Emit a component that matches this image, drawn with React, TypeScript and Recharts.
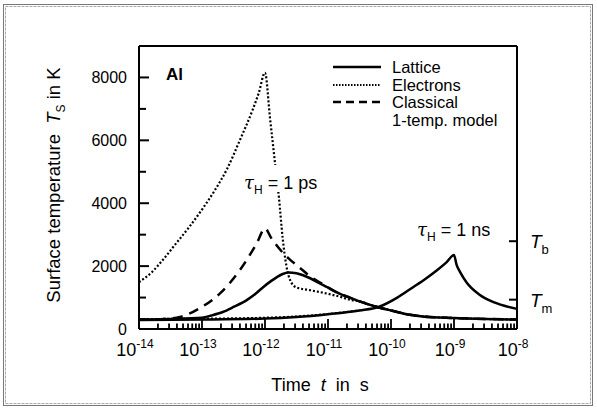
import React from 'react';
import { LineChart, Line, XAxis, YAxis, ReferenceLine } from 'recharts';

const FONT = '"Liberation Sans", Arial, Helvetica, sans-serif';
const TICK_COLOR = '#000';

// x values are log10(t / s)
const latticePsT = [-14, -13.5, -13.0, -12.85, -12.67, -12.5, -12.29, -12.15, -12.03, -11.9, -11.81, -11.72, -11.62, -11.5, -11.3, -11.17, -11.0, -10.8, -10.65, -10.5, -10.22, -10.0, -9.7, -9.5, -9.0, -8.5, -8.0];
const latticePsV = [300, 320, 360, 430, 540, 700, 920, 1120, 1330, 1530, 1650, 1750, 1800, 1770, 1630, 1490, 1320, 1110, 1000, 880, 700, 590, 450, 400, 350, 320, 300];

const electronsPsT = [-14, -13.8, -13.6, -13.4, -13.2, -13.0, -12.8, -12.6, -12.4, -12.2, -12.1, -12.0, -11.92, -11.84, -11.78, -11.72, -11.66, -11.6, -11.5, -11.3, -11.0, -10.8, -10.65, -10.5, -10.22, -10.0, -9.7, -9.5, -9.0, -8.5, -8.0];
const electronsPsV = [1490, 1800, 2250, 2750, 3250, 3800, 4400, 5100, 6000, 6950, 7500, 8150, 6700, 5260, 4200, 2900, 2000, 1550, 1320, 1240, 1120, 1020, 930, 880, 700, 590, 450, 400, 350, 320, 300];

const classicalPsT = [-14, -13.6, -13.35, -13.03, -12.71, -12.4, -12.13, -12.0, -11.9, -11.71, -11.6, -11.4, -11.29, -11.1, -10.9, -10.7, -10.5, -10.22, -10.0, -9.7, -9.5, -9.0, -8.5, -8.0];
const classicalPsV = [300, 320, 380, 670, 1140, 1870, 2730, 3200, 2890, 2410, 2200, 1870, 1680, 1450, 1200, 1030, 880, 700, 590, 450, 400, 350, 320, 300];

const latticeNsT = [-14, -13, -12, -11.5, -11, -10.5, -10.2, -9.9, -9.65, -9.45, -9.27, -9.12, -9.0, -8.96, -8.9, -8.8, -8.6, -8.4, -8.2, -8.0];
const latticeNsV = [290, 300, 330, 380, 470, 590, 700, 1000, 1330, 1600, 1870, 2120, 2350, 2050, 1800, 1480, 1100, 880, 740, 640];

const electronsNsT = [-14, -13, -12, -11.5, -11, -10.5];
const electronsNsV = [320, 330, 360, 400, 480, 590];

const yMajorTicks = [0, 2000, 4000, 6000, 8000];
const yMinorTicks = [1000, 3000, 5000, 7000];
const xDecades = [-14, -13, -12, -11, -10, -9, -8];
const phaseTemps = [933, 2792]; // T_m, T_b of Al
const phaseLabels = ['m', 'b'];

const X_MIN = -14;
const X_MAX = -8;
const Y_MAX = 9000;

const toPoints = (ts: number[], vs: number[]) => ts.map((t, i) => ({ t, v: vs[i] }));

const xMinor: number[] = [];
xDecades.forEach((d, i) => {
  if (i < xDecades.length - 1) {
    for (let k = 2; k <= 9; k++) xMinor.push(d + Math.log10(k));
  }
});
const yTicks = [...yMajorTicks, ...yMinorTicks].sort((a, b) => a - b);

const X_PER_PX = (X_MAX - X_MIN) / 378;
const Y_PER_PX = Y_MAX / 283;

const xTickSegs = [
  ...xDecades.slice(1, -1).map((d) => ({ key: 'xM' + d, pts: [{ t: d, v: 0 }, { t: d, v: 10 * Y_PER_PX }] })),
  ...xMinor.map((d) => ({ key: 'xm' + d, pts: [{ t: d, v: 0 }, { t: d, v: 5.5 * Y_PER_PX }] })),
];

const XTickLabel = (props: any) => {
  const { x, y, payload } = props;
  const v = payload.value;
  return (
    <text x={x - 4} y={y + 17} textAnchor="middle" fontFamily={FONT} fontSize={18} fill="#000">
      10<tspan dy={-8} fontSize={12}>{String(Math.round(v))}</tspan>
    </text>
  );
};

const YTick = (props: any) => {
  const { x, y, payload } = props;
  const v = payload.value;
  const major = v % 2000 === 0;
  const axisX = x + 12;
  return (
    <g>
      {v > 0 && <line x1={axisX} x2={axisX + (major ? 10 : 7)} y1={y} y2={y} stroke={TICK_COLOR} strokeWidth={2} />}
      {major && (
        <text x={x} y={y} dy="0.36em" textAnchor="end" fontFamily={FONT} fontSize={16} fill="#000">
          {v}
        </text>
      )}
    </g>
  );
};

const PhaseLabel = (props: any) => {
  const { viewBox, sub } = props;
  if (!viewBox) return null;
  const xr = viewBox.x + (viewBox.width || 0);
  const yc = viewBox.y + (viewBox.height || 0) / 2;
  return (
    <text x={xr + 13} y={yc + 7} fontFamily={FONT} fontSize={19} fontStyle="italic" fill="#000">
      T<tspan dy={6} fontSize={13} fontStyle="normal" fill="#000">{sub}</tspan>
    </text>
  );
};

export default function App() {
  return (
    <div style={{ position: 'absolute', left: 0, top: 0, width: 597, height: 412, background: '#fff' }}>
      <LineChart width={597} height={412} margin={{ top: 46, right: 80, bottom: 33, left: 79 }}>
        <XAxis
          type="number"
          dataKey="t"
          domain={[X_MIN, X_MAX]}
          ticks={xDecades}
          interval={0}
          height={50}
          tickSize={0}
          tickMargin={10}
          axisLine={{ stroke: '#000', strokeWidth: 2 }}
          tick={<XTickLabel />}
        />
        <YAxis
          type="number"
          domain={[0, Y_MAX]}
          ticks={yTicks}
          interval={0}
          width={60}
          tickSize={0}
          tickMargin={12}
          axisLine={{ stroke: '#000', strokeWidth: 2 }}
          tick={<YTick />}
        />
        <ReferenceLine y={Y_MAX} stroke="#000" strokeWidth={2} />
        <ReferenceLine x={X_MAX} stroke="#000" strokeWidth={2} />
        {xTickSegs.map((s) => (
          <Line key={s.key} data={s.pts} dataKey="v" type="linear" stroke={TICK_COLOR} strokeWidth={1.8} dot={false} isAnimationActive={false} />
        ))}
        {phaseTemps.map((v, i) => (
          <ReferenceLine
            key={'rl' + v}
            segment={[{ x: X_MAX - 8 * X_PER_PX, y: v }, { x: X_MAX, y: v }]}
            stroke={TICK_COLOR}
            strokeWidth={2}
            label={<PhaseLabel sub={phaseLabels[i]} />}
          />
        ))}
        <Line data={toPoints(electronsNsT, electronsNsV)} dataKey="v" type="monotone" stroke="#000" strokeWidth={2} strokeDasharray="2 2" dot={false} isAnimationActive={false} />
        <Line data={toPoints(latticeNsT, latticeNsV)} dataKey="v" type="monotone" stroke="#000" strokeWidth={2.5} dot={false} isAnimationActive={false} />
        <Line data={toPoints(classicalPsT, classicalPsV)} dataKey="v" type="monotone" stroke="#000" strokeWidth={2.5} strokeDasharray="10 7" dot={false} isAnimationActive={false} />
        <Line data={toPoints(electronsPsT, electronsPsV)} dataKey="v" type="monotone" stroke="#000" strokeWidth={2.2} strokeDasharray="2 2" dot={false} isAnimationActive={false} />
        <Line data={toPoints(latticePsT, latticePsV)} dataKey="v" type="monotone" stroke="#000" strokeWidth={2.5} dot={false} isAnimationActive={false} />
      </LineChart>
      <svg width={597} height={412} style={{ position: 'absolute', left: 0, top: 0, pointerEvents: 'none' }}>
        <rect x={3.5} y={4.5} width={589} height={401} fill="none" stroke="#777" strokeWidth={1} />
        <rect x={5.5} y={6.5} width={585} height={397} fill="none" stroke="#aaa" strokeWidth={1} strokeDasharray="3 1" />
        <line x1={333} x2={381} y1={67} y2={67} stroke="#000" strokeWidth={2.5} />
        <line x1={333} x2={381} y1={85} y2={85} stroke="#000" strokeWidth={1.8} strokeDasharray="1.5 1.5" />
        <line x1={333} x2={381} y1={102} y2={102} stroke="#000" strokeWidth={2.5} strokeDasharray="8 5" />
        <g fontFamily={FONT} fontSize={16.5} fill="#000">
          <text x={392} y={73}>Lattice</text>
          <text x={392} y={90.5}>Electrons</text>
          <text x={392} y={108}>Classical</text>
          <text x={392} y={125.5}>1-temp. model</text>
        </g>
        <text x={166} y={80} fontFamily={FONT} fontSize={17} fontWeight="bold" fill="#000">Al</text>
        <rect x={266} y={165} width={16} height={27} fill="#fff" />
        <text x={244} y={189} fontFamily={FONT} fontSize={18} fill="#000">
          <tspan fontStyle="italic" fontFamily="'DejaVu Serif', serif">τ</tspan>
          <tspan dy={5} fontSize={12}>H</tspan>
          <tspan dy={-5}> = 1 ps</tspan>
        </text>
        <text x={417} y={236} fontFamily={FONT} fontSize={18} fill="#000">
          <tspan fontStyle="italic" fontFamily="'DejaVu Serif', serif">τ</tspan>
          <tspan dy={5} fontSize={12}>H</tspan>
          <tspan dy={-5}> = 1 ns</tspan>
        </text>
        <text x={320} y={391} textAnchor="middle" fontFamily={FONT} fontSize={18} fill="#000" xmlSpace="preserve">
          Time  <tspan fontStyle="italic">t</tspan>  in  s
        </text>
        <text transform="translate(60,185) rotate(-90)" textAnchor="middle" fontFamily={FONT} fontSize={18.5} fill="#000" xmlSpace="preserve">
          Surface temperature  <tspan fontStyle="italic">T</tspan><tspan dy={5} fontSize={12}>S</tspan><tspan dy={-5}> in K</tspan>
        </text>
      </svg>
    </div>
  );
}
